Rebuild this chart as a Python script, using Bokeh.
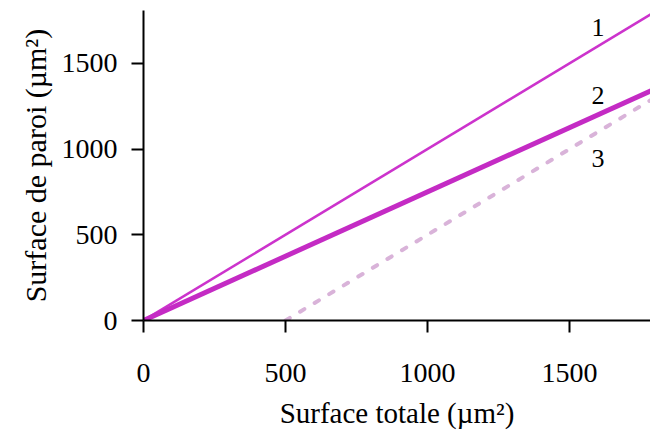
from bokeh.plotting import figure
from bokeh.models import Range1d, FixedTicker, Label
from bokeh.embed import file_html
from bokeh.resources import INLINE

# data
surface_totale = [0, 1800]
paroi_1 = [0, 1800]          # line 1: y = x
paroi_2 = [0, 1350]          # line 2: y = 0.75 x
surface_totale_3 = [500, 1800]
paroi_3 = [0, 1300]          # line 3: y = x - 500
x_ticks = [0, 500, 1000, 1500]
y_ticks = [0, 500, 1000, 1500]
line_labels = ["1", "2", "3"]
label_x = [1600, 1600, 1600]
label_y = [1710, 1315, 945]

FONT = "Liberation Serif"

p = figure(width=650, height=435, output_backend="svg", toolbar_location=None,
           x_range=Range1d(0, 1785), y_range=Range1d(0, 1808),
           min_border_left=143, min_border_right=0, min_border_top=10,
           min_border_bottom=115)
p.outline_line_color = None
p.grid.visible = False
p.background_fill_color = "white"
p.border_fill_color = "white"

p.line(surface_totale, paroi_1, line_color="#CC33CC", line_width=2.5)
p.line(surface_totale, paroi_2, line_color="#C42BC4", line_width=5)
p.line(surface_totale_3, paroi_3, line_color="#D9B3D9", line_width=4,
       line_dash="5 12", line_cap="round")

for t, lx, ly in zip(line_labels, label_x, label_y):
    p.add_layout(Label(x=lx, y=ly, text=t, text_font=FONT, text_font_size="26px",
                       text_color="black", text_align="center",
                       text_baseline="middle"))

for ax in (p.xaxis[0], p.yaxis[0]):
    ax.axis_line_color = "black"
    ax.axis_line_width = 2
    ax.major_tick_line_color = "black"
    ax.major_tick_line_width = 2
    ax.major_tick_in = 0
    ax.major_tick_out = 12
    ax.minor_tick_line_color = None
    ax.major_label_text_font = FONT
    ax.major_label_text_font_size = "28px"
    ax.major_label_text_color = "black"
    ax.axis_label_text_font = FONT
    ax.axis_label_text_font_size = "29px"
    ax.axis_label_text_font_style = "normal"
    ax.axis_label_text_color = "black"

p.yaxis[0].axis_label_text_font_size = "30px"
p.xaxis[0].ticker = FixedTicker(ticks=x_ticks)
p.yaxis[0].ticker = FixedTicker(ticks=y_ticks)
p.xaxis[0].major_label_standoff = 31
p.yaxis[0].major_label_standoff = 14
p.xaxis[0].axis_label = "Surface totale (µm²)"
p.yaxis[0].axis_label = "Surface de paroi (µm²)"
p.xaxis[0].axis_label_standoff = 12
p.yaxis[0].axis_label_standoff = 7

open("out.html", "w").write(file_html(p, INLINE))
